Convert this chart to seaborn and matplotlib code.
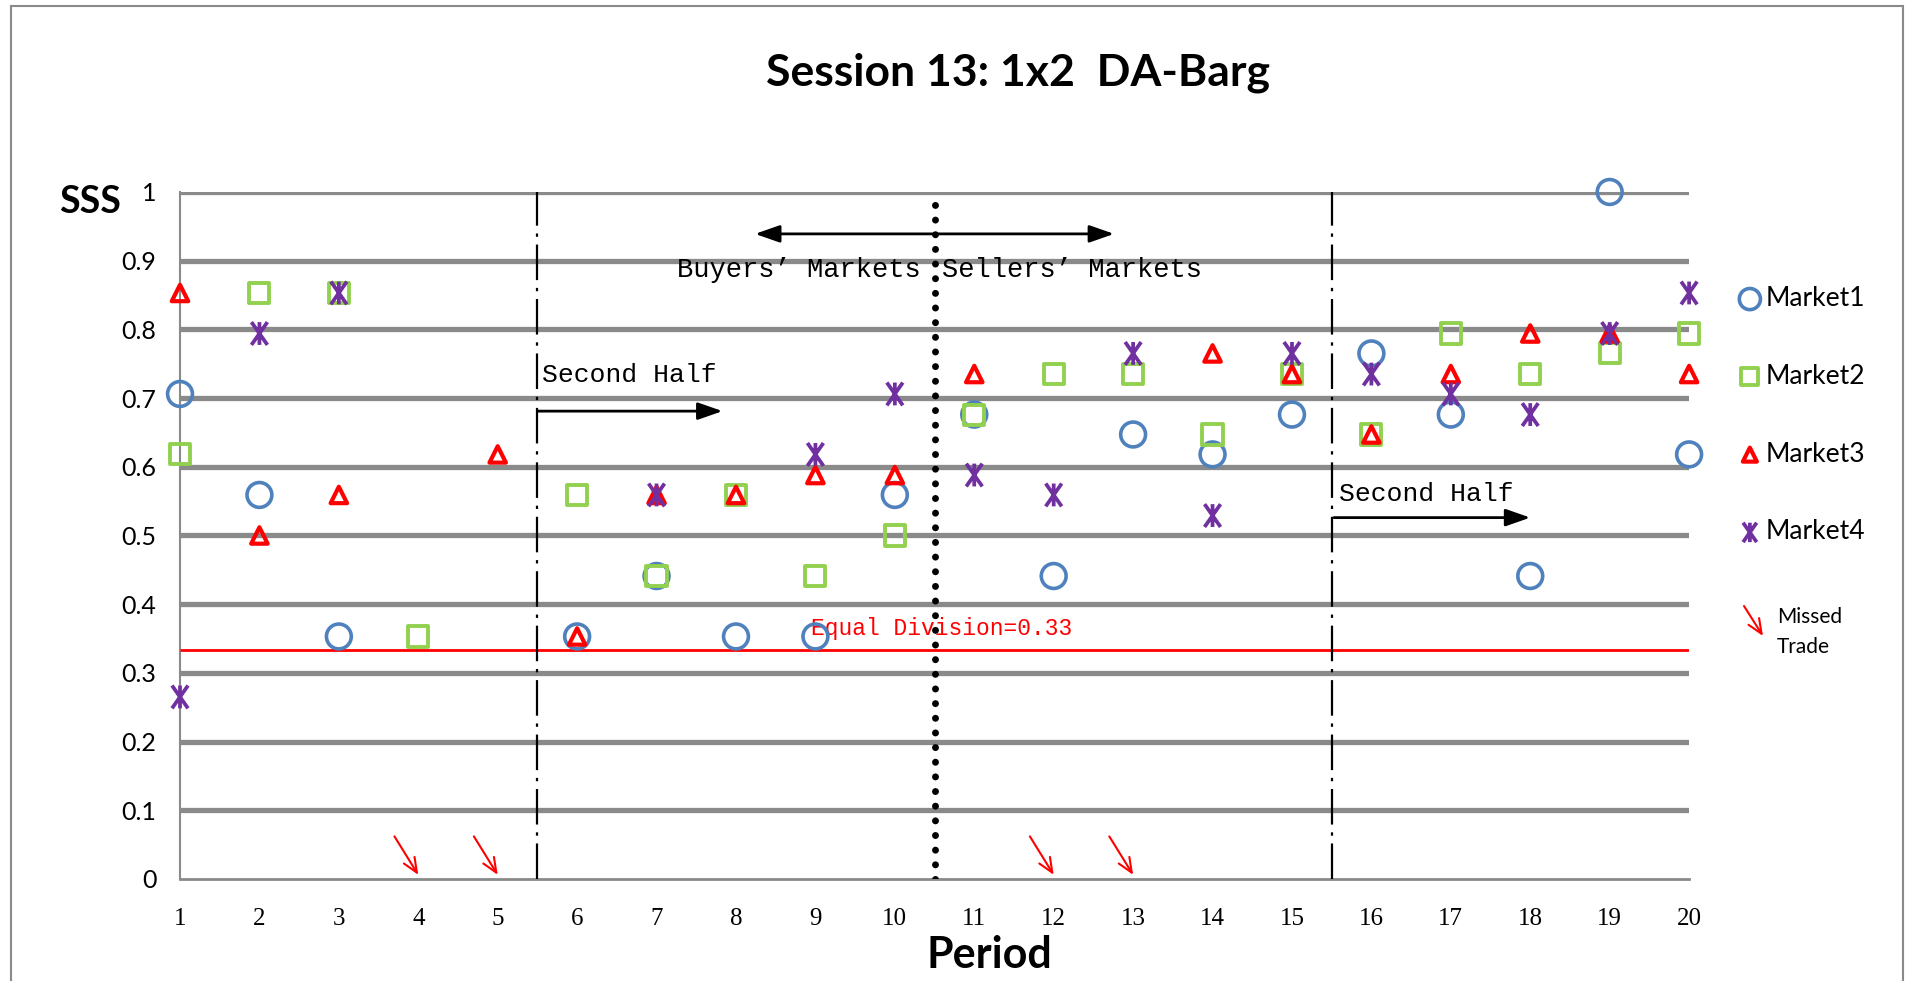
import numpy as np
import pandas as pd
import matplotlib

matplotlib.use("Agg")
import matplotlib.pyplot as plt
import seaborn as sns
from matplotlib.path import Path
from matplotlib.patches import Rectangle

# ===================== data =====================
periods = list(range(1, 21))
nan = np.nan
market1 = [0.706, 0.559, 0.353, nan, nan, 0.353, 0.441, 0.353, 0.353, 0.559,
           0.676, 0.441, 0.647, 0.618, 0.676, 0.765, 0.676, 0.441, 1.0, 0.618]
market2 = [0.618, 0.853, 0.853, 0.353, nan, 0.559, 0.441, 0.559, 0.441, 0.5,
           0.676, 0.735, 0.735, 0.647, 0.735, 0.647, 0.794, 0.735, 0.765, 0.794]
market3 = [0.853, 0.5, 0.559, nan, 0.618, 0.353, 0.559, 0.559, 0.588, 0.588,
           0.735, nan, nan, 0.765, 0.735, 0.647, 0.735, 0.794, 0.794, 0.735]
market4 = [0.265, 0.794, 0.853, nan, nan, nan, 0.559, nan, 0.618, 0.706,
           0.588, 0.559, 0.765, 0.529, 0.765, 0.735, 0.706, 0.676, 0.794, 0.853]
missed_periods = [4, 5, 12, 13]
equal_division = 0.333
y_ticks = [0, 0.1, 0.2, 0.3, 0.4, 0.5, 0.6, 0.7, 0.8, 0.9, 1]
y_labels = ["0", "0.1", "0.2", "0.3", "0.4", "0.5", "0.6", "0.7", "0.8", "0.9", "1"]

df = pd.DataFrame({"Period": periods, "Market1": market1, "Market2": market2,
                   "Market3": market3, "Market4": market4})

# ===================== style =====================
sns.set_style("white")
plt.rcParams["font.family"] = ["Lato", "DejaVu Sans"]
plt.rcParams["text.color"] = "black"
plt.rcParams["axes.labelcolor"] = "black"
plt.rcParams["xtick.color"] = "black"
plt.rcParams["ytick.color"] = "black"

BLUE = "#4F81BD"
GREEN = "#92D050"
RED = "#FF0000"
PURPLE = "#7030A0"
GRID = "#8A8A8A"
MONO = ["Liberation Mono", "DejaVu Sans Mono"]
SANS = ["Lato", "DejaVu Sans"]

# X with vertical bar, like the Excel "star" marker
star = Path([(-0.7, -1), (0.7, 1), (-0.7, 1), (0.7, -1), (0, -1), (0, 1)],
            [Path.MOVETO, Path.LINETO, Path.MOVETO, Path.LINETO, Path.MOVETO, Path.LINETO])

fig = plt.figure(figsize=(19.19, 9.81), dpi=100)
ax = fig.add_axes([0.0938, 0.104, 0.7864, 0.7003])

# outer frame
fig.patches.append(Rectangle((11 / 1919, -0.05), 1892 / 1919, 1 - 6 / 981 + 0.05,
                             transform=fig.transFigure, fill=False,
                             edgecolor="#8A8A8A", lw=1.5))

# horizontal grid (not at 0)
ax.hlines(y_ticks[1:], 1, 20, color=GRID, lw=3.8, zorder=1)

# ===================== scatter =====================
specs = [("Market1", "o", BLUE, 320, 2.6),
         ("Market2", "s", GREEN, 210, 2.8),
         ("Market3", "^", RED, 140, 3.0),
         ("Market4", star, PURPLE, 270, 2.7)]
for i, (name, mk, col, size, lw) in enumerate(specs):
    sns.scatterplot(data=df, x="Period", y=name, marker=mk, s=size,
                    color=col, facecolor="none", edgecolor=col, linewidth=lw,
                    clip_on=False, zorder=5 + i, label=name, legend=False, ax=ax)

# ===================== reference lines =====================
ax.hlines(equal_division, 1, 20, color=RED, lw=2.0, zorder=3)
ax.text(8.95, 0.365, "Equal Division=0.33", color=RED, family=MONO,
        fontsize=16.5, va="center", ha="left", zorder=4)

for xv in [5.5, 15.5]:
    ax.vlines(xv, 0, 1, color="black", lw=1.6, linestyles=[(0, (16, 3.5, 1.5, 3.5))], zorder=4)
ax.plot([10.5, 10.5], [0, 0.99], color="black", lw=5,
        linestyle=(0, (0.01, 2.1)), dash_capstyle="round", zorder=4)

# buyers / sellers arrow
ax.annotate("", xy=(8.24, 0.939), xytext=(12.76, 0.939),
            arrowprops=dict(arrowstyle="<|-|>,head_length=1.0,head_width=0.35",
                            mutation_scale=15, color="black", lw=2.0, shrinkA=0, shrinkB=0))
ax.text(10.32, 0.886, "Buyers’ Markets", family=MONO, fontsize=19.5, ha="right", va="center")
ax.text(10.6, 0.886, "Sellers’ Markets", family=MONO, fontsize=19.5, ha="left", va="center")

# second half arrows
for x0, x1, ytxt, yarr in [(5.5, 7.83, 0.734, 0.681), (15.53, 18.0, 0.560, 0.526)]:
    ax.text(x0 + 0.06, ytxt, "Second Half", family=MONO, fontsize=19, ha="left", va="center")
    ax.annotate("", xy=(x1, yarr), xytext=(x0, yarr),
                arrowprops=dict(arrowstyle="-|>,head_length=1.0,head_width=0.35",
                                mutation_scale=15, color="black", lw=2.0, shrinkA=0, shrinkB=0))

# missed trades
for p in missed_periods:
    ax.annotate("", xy=(p, 0.006), xytext=(p - 0.3, 0.062),
                arrowprops=dict(arrowstyle="->,head_length=0.7,head_width=0.3",
                                mutation_scale=15, color=RED, lw=1.5, shrinkA=0, shrinkB=0),
                annotation_clip=False)

# ===================== axes =====================
ax.set_xlim(1, 20)
ax.set_ylim(0, 1)
ax.set_xticks(periods)
ax.set_xticklabels([str(p) for p in periods], family=["Liberation Serif", "DejaVu Serif"], fontsize=18)
ax.set_yticks(y_ticks)
ax.set_yticklabels(y_labels, family=SANS, fontsize=18)
ax.tick_params(axis="x", direction="in", length=7, width=1.5, color=GRID, labelcolor="black", pad=21)
ax.tick_params(axis="y", length=0, pad=17, labelcolor="black")
for s in ["top", "right"]:
    ax.spines[s].set_visible(False)
ax.spines["left"].set_color(GRID)
ax.spines["left"].set_linewidth(1.5)
ax.spines["bottom"].set_color(GRID)
ax.spines["bottom"].set_linewidth(2.0)

ax.set_xlabel("Period", family=SANS, fontsize=31, fontweight="bold")
ax.xaxis.set_label_coords(0.536, -0.111)
ax.xaxis.label.set_va("center")
ax.set_ylabel("SSS", family=SANS, fontsize=27, fontweight="bold", rotation=0)
ax.yaxis.set_label_coords(-0.0596, 0.985)
ax.yaxis.label.set_va("center")
ax.yaxis.label.set_ha("center")

fig.text(1018 / 1919, 1 - 73 / 981, "Session 13: 1x2  DA-Barg", family=SANS,
         fontsize=32, fontweight="bold", ha="center", va="center")

# ===================== legend =====================
handles, labels = ax.get_legend_handles_labels()
fig.legend(handles, labels, loc="upper left", bbox_to_anchor=(1738 / 1919, 1 - 286 / 981),
           frameon=False, prop={"family": SANS, "size": 19},
           labelspacing=2.0, handletextpad=0.15, handlelength=0.9,
           markerscale=0.85, borderaxespad=0, borderpad=0)
ax.annotate("", xy=(1763 / 1919, 1 - 636 / 981), xytext=(1744 / 1919, 1 - 606 / 981),
            xycoords="figure fraction", textcoords="figure fraction",
            arrowprops=dict(arrowstyle="->,head_length=0.7,head_width=0.3",
                            mutation_scale=15, color=RED, lw=1.5, shrinkA=0, shrinkB=0))
fig.text(1777 / 1919, 1 - 617 / 981, "Missed", fontsize=15, ha="left", va="center")
fig.text(1777 / 1919, 1 - 647 / 981, "Trade", fontsize=15, ha="left", va="center")

fig.savefig("out.png", dpi=100)
plt.close(fig)
